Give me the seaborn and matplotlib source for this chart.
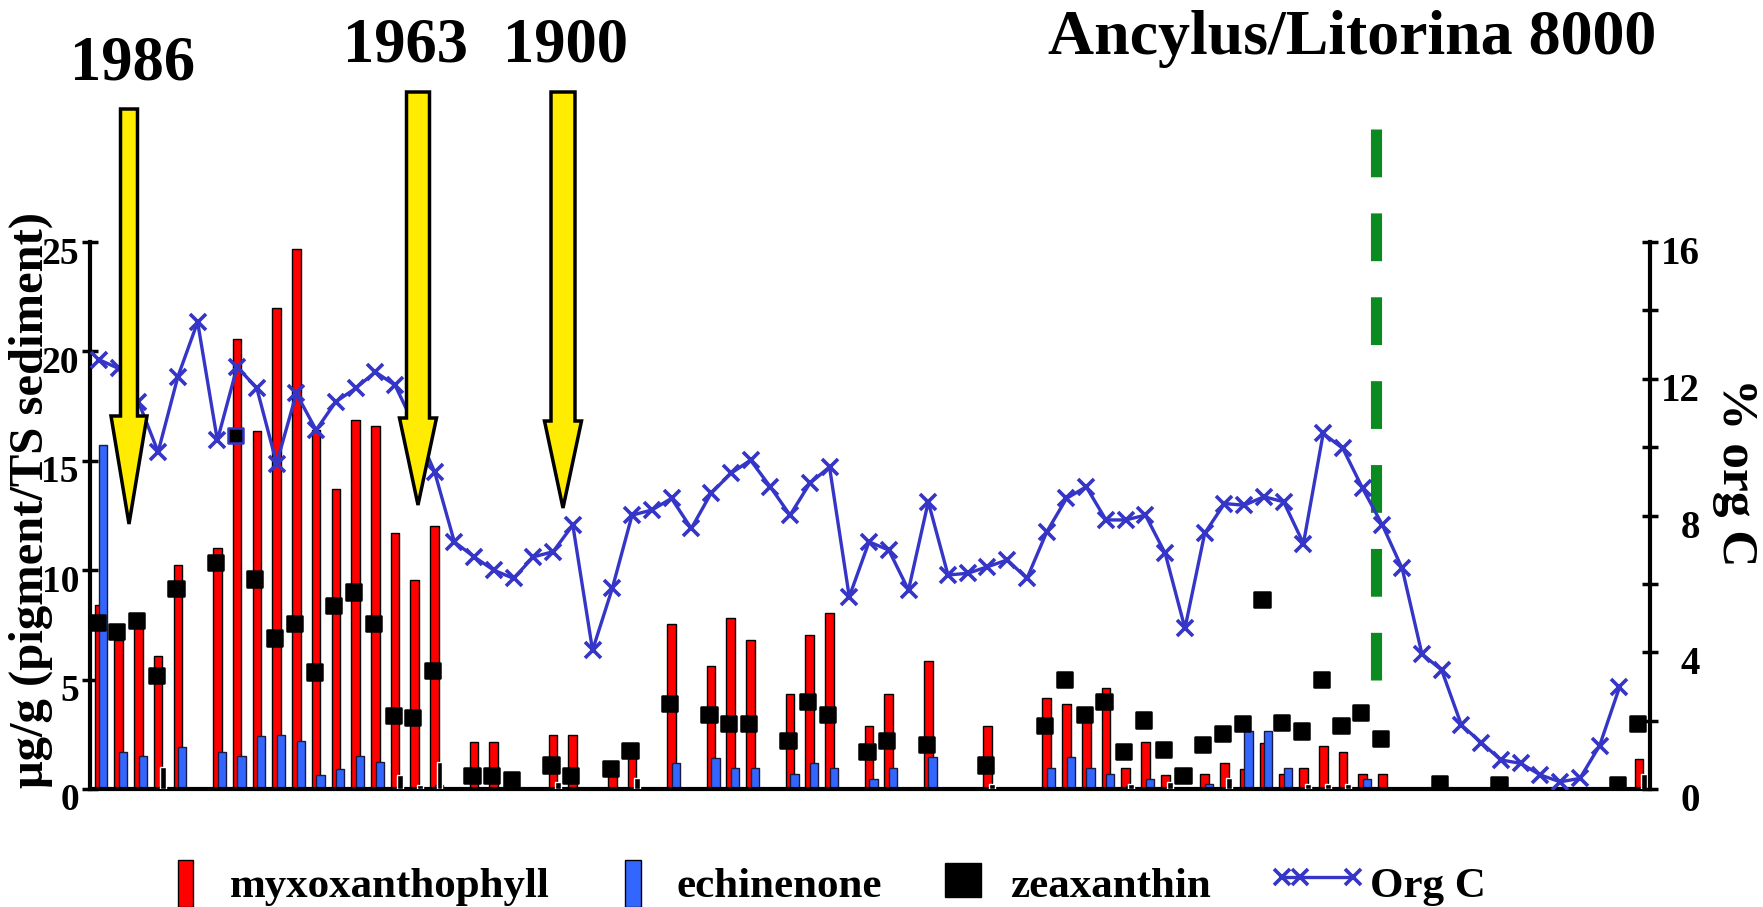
import numpy as np
import pandas as pd
import matplotlib
matplotlib.use("Agg")
import matplotlib.pyplot as plt
import seaborn as sns
from matplotlib.patches import Polygon, Rectangle
from matplotlib.lines import Line2D
from matplotlib.transforms import Affine2D, ScaledTranslation

nan = np.nan

# pigment data per sediment sample (ug/g), left axis
myxoxanthophyll = [8.4, 6.8, 7.6, 6.1, 10.25, nan, 11.0, 20.55, 16.35, 22.0,
                   24.7, 16.4, 13.7, 16.85, 16.6, 11.7, 9.55, 12.0, nan, 2.15,
                   2.15, nan, nan, 2.45, 2.45, nan, 0.8, 1.6, nan, 7.55,
                   nan, 5.6, 7.8, 6.8, nan, 4.35, 7.05, 8.05, nan, 2.9,
                   4.35, nan, 5.85, nan, nan, 2.9, nan, nan, 4.15, 3.9,
                   3.15, 4.6, 0.95, 2.15, 0.65, nan, 0.7, 1.2, 0.9, 2.1,
                   0.7, 0.95, 1.95, 1.7, 0.7, 0.7, nan, nan, nan, nan,
                   nan, nan, nan, nan, nan, nan, nan, nan, 1.35]

echinenone = [15.7, 1.7, 1.5, nan, 1.9, nan, 1.7, 1.5, 2.4, 2.45,
              2.2, 0.65, 0.9, 1.5, 1.25, nan, nan, 0.2, nan, nan,
              nan, nan, nan, nan, nan, nan, nan, nan, nan, 1.2,
              nan, 1.4, 0.95, 0.95, nan, 0.7, 1.2, 0.95, nan, 0.45,
              0.95, nan, 1.45, nan, nan, nan, nan, nan, 0.95, 1.45,
              0.95, 0.7, 0.15, 0.45, nan, nan, 0.25, nan, 2.65, 2.65,
              0.95, nan, nan, nan, 0.45, nan, nan, nan, nan, nan,
              nan, nan, nan, nan, nan, nan, nan, nan, nan]

zeaxanthin = [7.6, 7.2, 7.7, 5.2, 9.15, nan, 10.35, 16.15, 9.6, 6.9,
              7.55, 5.35, 8.4, 9.0, 7.55, 3.35, 3.25, 5.4, nan, 0.6,
              0.6, 0.45, nan, 1.1, 0.6, nan, 0.95, 1.75, nan, 3.9,
              nan, 3.4, 3.0, 3.0, nan, 2.2, 4.0, 3.4, nan, 1.7,
              2.2, nan, 2.05, nan, nan, 1.1, nan, nan, 2.9, 5.0,
              3.4, 4.0, 1.7, 3.15, 1.8, 0.6, 2.05, 2.55, 3.0, 8.65,
              3.05, 2.65, 5.0, 2.9, 3.5, 2.3, nan, nan, 0.25, nan,
              nan, 0.2, nan, nan, nan, nan, nan, 0.2, 3.0]

# small dark bars next to the red ones
dark_bars = [nan, nan, nan, 1.0, nan, nan, nan, nan, nan, nan,
             nan, nan, nan, nan, nan, 0.65, 0.2, 1.25, nan, nan,
             nan, nan, nan, 0.3, nan, nan, nan, 0.5, nan, nan,
             nan, nan, nan, nan, nan, nan, nan, nan, nan, nan,
             nan, nan, nan, nan, nan, 0.25, nan, nan, nan, nan,
             nan, nan, 0.25, nan, 0.3, nan, nan, 0.5, nan, nan,
             nan, 0.25, 0.25, 0.25, nan, nan, nan, nan, nan, nan,
             nan, nan, nan, nan, nan, nan, nan, nan, 0.7]

# organic carbon (%), right axis
org_c = [12.56, 12.30, 11.33, 9.86, 12.06, 13.66, 10.20, 12.35, 11.72, 9.52,
         11.57, 10.50, 11.33, 11.72, 12.20, 11.81, 10.6, 9.28, 7.23, 6.79,
         6.40, 6.16, 6.79, 6.94, 7.72, 4.06, 5.87, 8.01, 8.16, 8.50,
         7.62, 8.65, 9.23, 9.62, 8.84, 8.01, 8.94, 9.42, 5.62, 7.23,
         6.99, 5.82, 8.40, 6.26, 6.31, 6.50, 6.70, 6.16, 7.52, 8.50,
         8.84, 7.87, 7.87, 8.01, 6.89, 4.70, 7.48, 8.35, 8.30, 8.55,
         8.40, 7.18, 10.40, 9.96, 8.79, 7.72, 6.45, 3.95, 3.48, 1.87,
         1.36, 0.85, 0.75, 0.41, 0.21, 0.31, 1.27, 2.97]

years = ["1986", "1963", "1900"]
boundary_pos = 64.6   # Ancylus/Litorina transition

sns.set_style("white", {"axes.edgecolor": "black", "xtick.color": "black",
                        "ytick.color": "black", "text.color": "black"})
plt.rcParams["font.family"] = ["Liberation Serif", "DejaVu Serif"]
plt.rcParams["font.weight"] = "bold"

W, H = 1763, 907
n = len(myxoxanthophyll)
idx = np.arange(n)

fig = plt.figure(figsize=(W / 100, H / 100), dpi=100)
px = Affine2D().scale(1 / W, -1 / H).translate(0, 1) + fig.transFigure
ax = fig.add_axes([90 / W, 1 - 789 / H, 1560 / W, (789 - 242) / H])

RED, BLUE, ORG = "#ff0000", "#3366ff", "#3535c8"

ax.bar(idx - 0.05, myxoxanthophyll, width=0.44, color=RED, edgecolor="black", linewidth=1, zorder=2)
ax.bar(idx + 0.17, echinenone, width=0.42, color=BLUE, edgecolor="#1a1a40", linewidth=1, zorder=2.5)
ax.bar(idx + 0.2, dark_bars, width=0.3, color="black", zorder=2.6)

zdf = pd.DataFrame({"x": idx - 0.15, "y": zeaxanthin}).dropna()
edges = [ORG if i == 7 else "black" for i in zdf.index]
sns.scatterplot(data=zdf, x="x", y="y", marker="s", s=120, color="black",
                edgecolor=edges, linewidth=1.8, ax=ax, zorder=4, legend=False)

ax.set_xlim(-0.5, n - 0.5)
ax.set_ylim(0, 25)
ax.set_xticks(np.arange(0.5, n - 1, 1))
ax.set_yticks(range(0, 26, 5))
ax.tick_params(axis="x", direction="inout", length=14, width=2, labelbottom=False)
ax.tick_params(axis="y", direction="inout", length=12, width=2.5, labelsize=27, pad=2)
ax.set_xlabel("")
ax.set_ylabel("")
for s in ["top", "right"]:
    ax.spines[s].set_visible(False)
for s in ["left", "bottom"]:
    ax.spines[s].set_linewidth(3)

ax2 = ax.twinx()
sns.lineplot(x=idx[:len(org_c)] - 0.05, y=org_c, ax=ax2, color=ORG, lw=2.4,
             marker="x", markersize=12, markeredgewidth=2.6, markeredgecolor=ORG, zorder=5)
ax2.plot([boundary_pos, boundary_pos], [19.3, 3.19], color="#0b8a1f", lw=8,
         linestyle=(0, (4.3, 3.25)), dash_capstyle="butt", clip_on=False, zorder=3)
ax2.set_ylim(0, 16)
ax2.set_yticks([0, 4, 8, 12, 16])
ax2.set_yticks([2, 6, 10, 14], minor=True)
ax2.tick_params(axis="y", which="both", direction="inout", length=12, width=2.5,
                labelsize=28, pad=30)
ax2.set_ylabel("")
for s in ["top", "left", "bottom"]:
    ax2.spines[s].set_visible(False)
ax2.spines["right"].set_linewidth(3)

shift = ScaledTranslation(0, -0.08, fig.dpi_scale_trans)
for lab in ax.get_yticklabels():
    lab.set_transform(lab.get_transform() + shift)
for lab in ax2.get_yticklabels():
    lab.set_transform(lab.get_transform() + shift)
    lab.set_ha("right")

# axis titles
fig.text(31, 500, "μg/g (pigment/TS sediment)", transform=px, rotation=90,
         fontsize=35, ha="center", va="center")
fig.text(1735, 472, "% org C", transform=px, rotation=270,
         fontsize=37, ha="center", va="center")
fig.text(1352, 39, "Ancylus/Litorina 8000", transform=px, fontsize=46,
         ha="center", va="center")


def down_arrow(xc, top, base, tip, shaft_hw, head_hw):
    verts = [(xc - shaft_hw, top), (xc + shaft_hw, top), (xc + shaft_hw, base),
             (xc + head_hw, base), (xc, tip), (xc - head_hw, base), (xc - shaft_hw, base)]
    fig.add_artist(Polygon(verts, closed=True, transform=px, facecolor="#ffec00",
                           edgecolor="black", lw=2.5, zorder=10))


# year markers with arrows
for label, (tx, ty), arr in zip(years, [(133, 65), (405, 47), (565, 47)],
                                [(129, 109, 416, 524, 8.5, 18), (418, 92, 418, 505, 11.5, 18.5),
                                 (563, 92, 421, 508, 12, 18.5)]):
    fig.text(tx, ty, label, transform=px, fontsize=45, ha="center", va="center")
    down_arrow(*arr)

# legend drawn by hand
fig.add_artist(Rectangle((178, 860), 15, 47, transform=px, facecolor=RED, edgecolor="black", lw=1))
fig.add_artist(Rectangle((625, 860), 16, 47, transform=px, facecolor=BLUE, edgecolor="black", lw=1))
fig.add_artist(Rectangle((945, 863), 36, 34, transform=px, facecolor="black", edgecolor="black", lw=1))
fig.add_artist(Line2D([1282, 1300, 1353], [877, 877, 877], transform=px, color=ORG, lw=2.4,
                      marker="x", markersize=12, markeredgewidth=2.6))
for txt, x in [("myxoxanthophyll", 230), ("echinenone", 676), ("zeaxanthin", 1010), ("Org C", 1370)]:
    fig.text(x, 897, txt, transform=px, fontsize=31, va="baseline", ha="left")

fig.savefig("out.png", dpi=100)
